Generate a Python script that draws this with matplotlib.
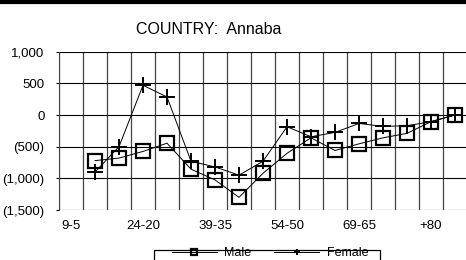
import numpy as np
import matplotlib.pyplot as plt
from matplotlib.ticker import FuncFormatter
from matplotlib.patches import Rectangle

plt.rcParams['font.family'] = ['Liberation Sans', 'DejaVu Sans']

# age groups (last group has no visible label)
age_groups = ['9-5', '14-10', '19-15', '24-20', '29-25', '34-30', '39-35', '44-40',
              '49-45', '54-50', '59-55', '64-60', '69-65', '74-70', '79-75', '+80', 'Total']

male = [np.nan, -720, -680, -575, -445, -855, -1025, -1300, -920, -605,
        -360, -560, -455, -360, -290, -105, 0]
female = [np.nan, -900, -500, 470, 285, -730, -820, -950, -730, -185,
          -343, -275, -133, -180, -169, -105, 0]

W, H = 466, 260
fig = plt.figure(figsize=(W / 100, H / 100), dpi=100)
ax = fig.add_axes([59 / W, 1 - 210 / H, 408 / W, (210 - 51.7) / H])

x = np.arange(len(age_groups))
ax.plot(x, male, color='black', lw=0.7, marker='s', ms=10, mfc='none',
        mec='black', mew=1.6, label='Male')
ax.plot(x, female, color='black', lw=0.7, marker='+', ms=11, mew=1.4,
        label='Female')

ax.set_xlim(-0.5, len(age_groups) - 0.5)
ax.set_ylim(-1500, 1000)
ax.set_yticks(np.arange(-1500, 1001, 500))

def fmt(v, pos):
    if v < 0:
        return '({:,.0f})'.format(-v)
    return '{:,.0f}'.format(v)

ax.yaxis.set_major_formatter(FuncFormatter(fmt))
ax.set_xticks(x[::3])
ax.set_xticklabels(age_groups[::3])
ax.set_xticks(np.arange(-0.5, len(age_groups), 1), minor=True)
ax.tick_params(axis='x', which='both', length=0, labelsize=9.5, pad=7)
ax.tick_params(axis='y', length=2.5, width=0.8, labelsize=9.5, pad=8)
ax.grid(True, axis='y', color='black', lw=0.8)
ax.grid(True, axis='x', which='minor', color='#444444', lw=0.9)
for s in ['top', 'right', 'bottom']:
    ax.spines[s].set_visible(False)
ax.spines['left'].set_color('#444444')
ax.set_axisbelow(True)

fig.text(209 / W, 1 - 30 / H, 'COUNTRY:  Annaba', ha='center', va='center',
         fontsize=11.5)

# thick top border
fig.add_artist(plt.Line2D([0, 1], [1 - 2 / H, 1 - 2 / H], color='black', lw=3,
                          transform=fig.transFigure))

# legend: no own frame, box drawn below (runs off the bottom edge)
leg = fig.legend(loc='center', bbox_to_anchor=(270 / W, 1 - 253.5 / H),
                 ncol=2, fontsize=9, markerscale=0.45, frameon=False,
                 handlelength=3.6, columnspacing=1.8, borderpad=0.0,
                 handletextpad=0.6, borderaxespad=0)
fig.add_artist(Rectangle((154 / W, 1 - 263 / H), 226 / W, 13.5 / H,
                         transform=fig.transFigure, fill=False,
                         edgecolor='black', lw=0.9))

fig.savefig('out.png', dpi=100)
